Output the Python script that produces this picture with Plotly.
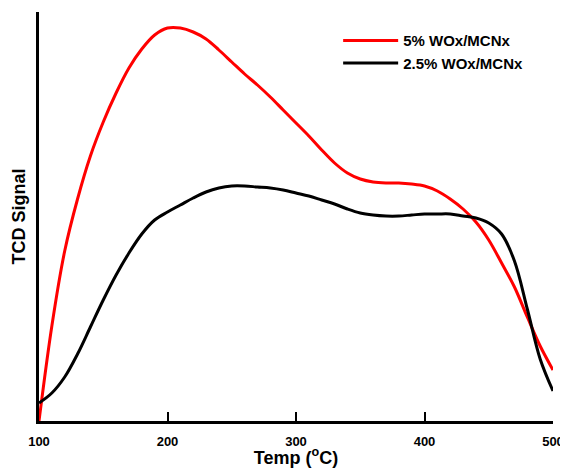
import plotly.graph_objects as go

# temperature (°C) and TCD signal (arbitrary units)
temp = [100, 110, 120, 130, 140, 150, 160, 170, 180, 190, 200, 210, 220, 230, 240, 250, 260, 270, 280, 290,
        300, 310, 320, 330, 340, 350, 360, 370, 380, 390, 400, 410, 420, 430, 440, 450, 460, 470, 480, 490, 500]
signal_5 = [0, 95, 170, 222, 265, 299, 328, 353, 372, 386, 393, 393, 389, 382, 371, 359, 347, 336, 324, 311,
            298, 285, 271, 258, 248, 242, 239, 238, 238, 237, 235, 230, 222, 212, 199, 181, 158, 134, 104, 75, 51]
signal_25 = [18, 28, 44, 67, 94, 121, 146, 168, 187, 201, 209, 216, 223, 229, 233, 235, 235, 234, 233, 231,
             228, 225, 221, 217, 212, 208, 206, 205, 205, 206, 207, 207, 207, 205, 203, 198, 187, 160, 112, 62, 30]

labels = ["5% WOx/MCNx", "2.5% WOx/MCNx"]

fig = go.Figure()
fig.add_trace(go.Scatter(x=temp, y=signal_5, mode="lines", name=labels[0],
                         line=dict(color="#ff0000", width=3, shape="spline", smoothing=1)))
fig.add_trace(go.Scatter(x=temp, y=signal_25, mode="lines", name=labels[1],
                         line=dict(color="#000000", width=3, shape="spline", smoothing=1)))

# page body has an 8px margin all round, so keep the figure inside 552+8 x 460+8
fig.update_layout(
    width=560, height=460,
    margin=dict(l=31, r=15, t=4, b=47),
    paper_bgcolor="white", plot_bgcolor="white",
    font=dict(family="Liberation Sans, Arial", color="black"),
    showlegend=True,
    legend=dict(x=0.582, y=0.97, xanchor="left", yanchor="top", itemwidth=55,
                bgcolor="rgba(0,0,0,0)",
                font=dict(size=15, weight="bold")),
)
fig.update_xaxes(range=[100, 500], tickvals=[100, 200, 300, 400, 500], automargin=False,
                 showline=True, linecolor="black", linewidth=2.5,
                 ticks="inside", ticklen=9, tickwidth=2, tickcolor="black",
                 showgrid=False, zeroline=False, ticklabelstandoff=7,
                 tickfont=dict(size=13, weight="bold"),
                 title=dict(text="Temp (<sup>o</sup>C)", font=dict(size=18, weight="bold"), standoff=0))
fig.update_yaxes(range=[0, 409], automargin=False, showline=True, linecolor="black", linewidth=2.5,
                 ticks="", showticklabels=False, showgrid=False, zeroline=False,
                 title=dict(text="TCD Signal", font=dict(size=18, weight="bold"), standoff=6))

fig.write_html("out.html")
